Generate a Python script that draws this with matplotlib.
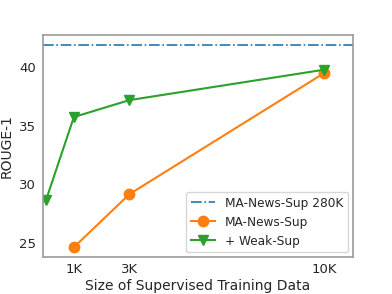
import matplotlib
matplotlib.use('Agg')
import matplotlib.pyplot as plt

# data
sup_x = [1000, 3000, 10000]
sup_y = [24.6, 29.15, 39.5]
weak_x = [0, 1000, 3000, 10000]
weak_y = [28.65, 35.75, 37.2, 39.8]
full_sup = 41.95
tick_pos = [1000, 3000, 10000]
tick_labels = ['1K', '3K', '10K']

plt.rcParams['text.color'] = '#262626'
plt.rcParams['axes.labelcolor'] = '#262626'
plt.rcParams['xtick.color'] = '#262626'
plt.rcParams['ytick.color'] = '#262626'

fig, ax = plt.subplots(figsize=(3.92, 2.94), dpi=100)
fig.subplots_adjust(left=0.109, right=0.9, top=0.882, bottom=0.125)

ax.axhline(full_sup, color='#1f77b4', linestyle='-.', linewidth=1.2, label='MA-News-Sup 280K')
ax.plot(sup_x, sup_y, color='#ff7f0e', marker='o', markersize=7.5, linewidth=1.5, label='MA-News-Sup')
ax.plot(weak_x, weak_y, color='#2ca02c', marker='v', markersize=7.5, linewidth=1.5, label='+ Weak-Sup')

ax.set_xlim(-120, 11040)
ax.set_ylim(23.75, 42.8)
ax.set_xticks(tick_pos)
ax.set_xticklabels(tick_labels)
ax.set_yticks([25, 30, 35, 40])
ax.tick_params(length=0, labelsize=9.5)
ax.tick_params(axis='x', pad=4)
ax.tick_params(axis='y', pad=5)
for s in ax.spines.values():
    s.set_color('#999999')
    s.set_linewidth(1.2)

ax.set_xlabel('Size of Supervised Training Data', fontsize=10, labelpad=2)
ax.set_ylabel('ROUGE-1', fontsize=10, labelpad=4)
ax.legend(loc='lower right', fontsize=8.7, borderaxespad=0.4)

fig.savefig('out.png', dpi=100)
